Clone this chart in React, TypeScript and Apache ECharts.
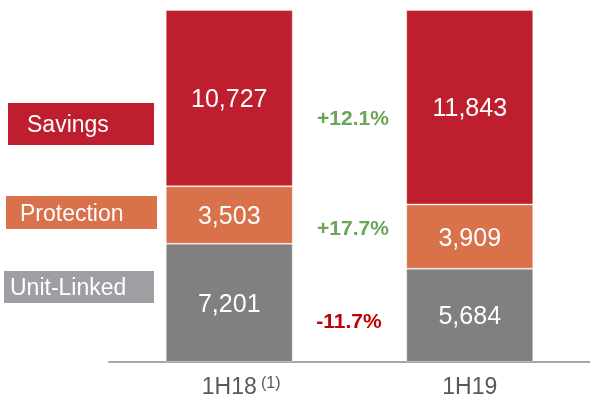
import React, { useEffect, useRef } from "react";
import * as echarts from "echarts";

const categories = ["1H18", "1H19"];
const seriesNames = ["Unit-Linked", "Protection", "Savings"];
const unitLinked = [7201, 5684];
const protection = [3503, 3909];
const savings = [10727, 11843];
const changes = ["+12.1%", "+17.7%", "-11.7%"]; // Savings, Protection, Unit-Linked
const footnote = "(1)";

const COLORS = {
  savings: "#BE1E2D",
  protection: "#D9714B",
  unit: "#808080",
  unitLegend: "#9D9FA2",
  green: "#6AA559",
  red: "#C00000",
};
const FONT = "Liberation Sans, Arial, sans-serif";

export default function App() {
  const ref = useRef<HTMLDivElement>(null);
  useEffect(() => {
    if (!ref.current) return;
    const chart = echarts.init(ref.current, undefined, { renderer: "svg" });
    const totals = categories.map((_, i) => unitLinked[i] + protection[i] + savings[i]);
    const yMax = Math.max(...totals);
    const fmt = (p: any) => Number(p.value).toLocaleString("en-US");
    const barLabel = {
      show: true,
      position: "inside" as const,
      color: "#ffffff",
      fontSize: 25,
      fontFamily: FONT,
      formatter: fmt,
    };
    const border = { borderColor: "rgba(255,255,255,0.35)", borderWidth: 1 };
    const mk = (name: string, data: number[], color: string) => ({
      name,
      type: "bar" as const,
      stack: "total",
      data,
      barWidth: 127,
      itemStyle: { color, ...border },
      label: barLabel,
    });

    const legendItems = [
      { name: seriesNames[2], color: COLORS.savings, x: 8, y: 103, w: 146, h: 42, tx: 27 },
      { name: seriesNames[1], color: COLORS.protection, x: 6, y: 196, w: 151, h: 33, tx: 20 },
      { name: seriesNames[0], color: COLORS.unitLegend, x: 4, y: 271, w: 150, h: 32, tx: 10 },
    ];
    const changePos = [
      { x: 353, y: 117 },
      { x: 353, y: 227 },
      { x: 349, y: 320 },
    ];

    chart.setOption({
      animation: false,
      grid: { left: 109, width: 483, top: 10, height: 352 },
      xAxis: {
        type: "category",
        data: categories,
        axisLine: { show: true, lineStyle: { color: "#A6A6A6", width: 2 } },
        axisTick: { show: false },
        axisLabel: {
          margin: 12,
          formatter: (v: string) =>
            v === categories[0] ? `{pad|}{a|${v}}{sup|${footnote}}` : `{a|${v}}`,
          rich: {
            a: { fontSize: 23, color: "#595959", fontFamily: FONT },
            pad: { width: 24 },
            sup: {
              fontSize: 16,
              color: "#595959",
              fontFamily: FONT,
              width: 20,
              align: "left",
              padding: [0, 0, 8, 4],
            },
          },
        },
      },
      yAxis: {
        type: "value",
        min: 0,
        max: yMax,
        show: false,
        splitLine: { show: false },
      },
      series: [
        mk(seriesNames[0], unitLinked, COLORS.unit),
        mk(seriesNames[1], protection, COLORS.protection),
        mk(seriesNames[2], savings, COLORS.savings),
      ],
      graphic: [
        ...legendItems.map((it) => ({
          type: "group",
          children: [
            {
              type: "rect",
              shape: { x: it.x, y: it.y, width: it.w, height: it.h },
              style: { fill: it.color },
            },
            {
              type: "text",
              x: it.tx,
              y: it.y + it.h / 2,
              style: {
                text: it.name,
                fill: "#ffffff",
                font: `23px ${FONT}`,
                textAlign: "left",
                textVerticalAlign: "middle",
              },
            },
          ],
        })),
        ...changes.map((c, i) => ({
          type: "text",
          x: changePos[i].x,
          y: changePos[i].y,
          style: {
            text: c,
            fill: c.startsWith("-") ? COLORS.red : COLORS.green,
            font: `bold 21px ${FONT}`,
            textAlign: "center",
            textVerticalAlign: "middle",
          },
        })),
      ],
    });
    return () => chart.dispose();
  }, []);
  return (
    <div
      ref={ref}
      style={{ position: "fixed", left: 0, top: 0, width: 590, height: 401 }}
    />
  );
}
